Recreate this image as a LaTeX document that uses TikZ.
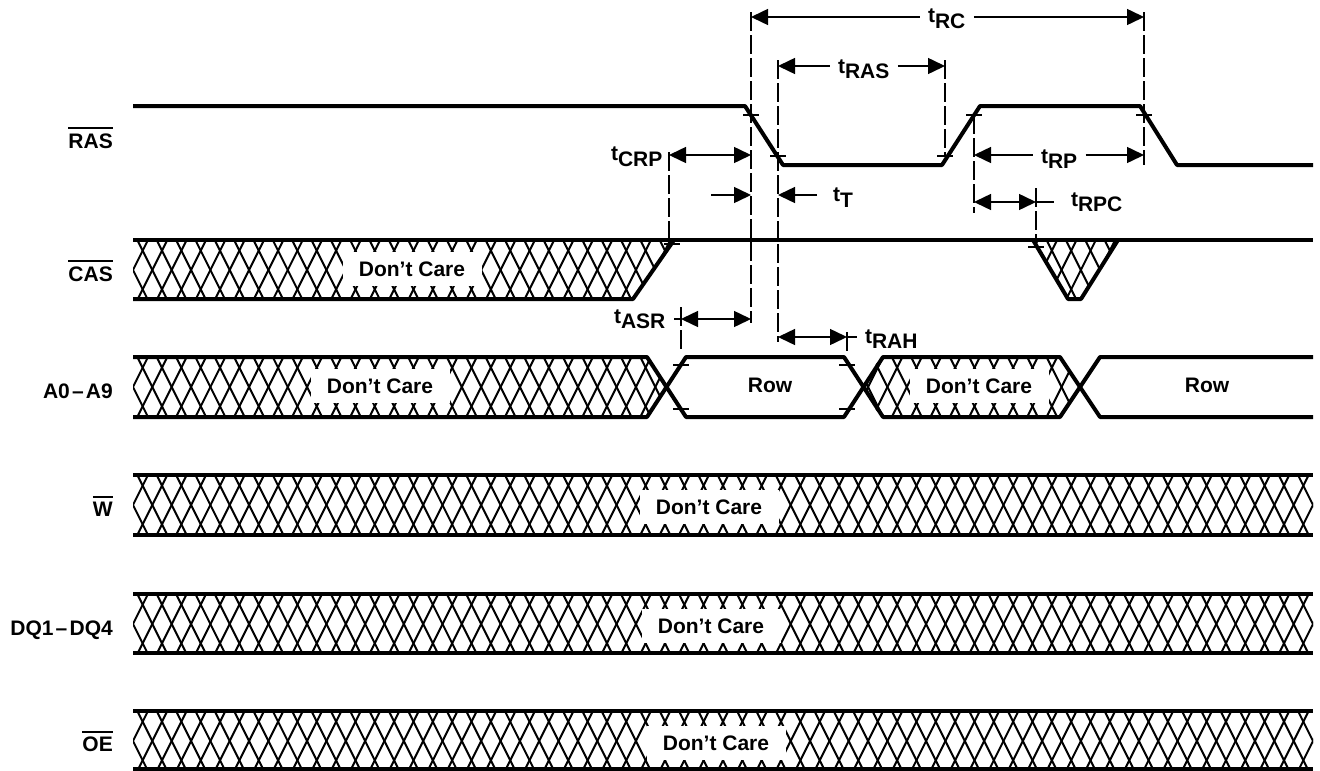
\documentclass[tikz,border=0pt]{standalone}
\usepackage{fontspec}
\setmainfont{Liberation Sans}
\usetikzlibrary{arrows.meta}
\tikzset{
    wave/.style = {draw, line width=4pt, line join=round},
    bandline/.style = {draw, line width=4pt, line join=miter},
    hatchline/.style = {draw, line width=2pt},
    guide/.style = {draw, line width=1.3pt, dash pattern=on 19pt off 4pt},
    tickmark/.style = {draw, line width=1.4pt},
    dim/.style = {draw, line width=1.5pt, -{Triangle[length=17pt,width=16pt]}},
    dimboth/.style = {draw, line width=1.5pt, {Triangle[length=17pt,width=16pt]}-{Triangle[length=17pt,width=16pt]}},
    stub/.style = {draw, line width=1.5pt},
    tlabel/.style = {anchor=base west, inner sep=0pt, outer xsep=8.5pt},
    siglabel/.style = {anchor=base east, inner sep=0pt},
    dontcare/.style = {fill=white, inner sep=0pt, minimum width=139pt, minimum height=34pt, text height=15pt, text depth=0pt},
    rowlabel/.style = {inner sep=0pt, text height=15pt, text depth=0pt}
}
\newcommand{\tsub}[1]{t\raisebox{-5.5pt}{#1}}
\newcommand{\nbar}[1]{\vbox{\hrule height 2pt \kern 4pt \hbox{#1}}}
\newcommand{\hatched}[2]{%
    \begin{scope}
        \clip #2;
        \foreach \k in {0,...,62}{
            \draw [hatchline] ({118+19.344*\k},#1) -- +(30,60);
            \draw [hatchline] ({148+19.344*\k},#1) -- +(-30,60);
        }
    \end{scope}
}
\begin{document}
\begin{tikzpicture}[x=1pt, y=-1pt, every node/.style={font=\fontsize{21}{24}\selectfont\bfseries}]
        \useasboundingbox (0,0) rectangle (1320,771);
        \hatched{240}{(133,240) -- (674,240) -- (633,299) -- (133,299) -- cycle}
        \hatched{240}{(1033,240) -- (1068,299) -- (1081,299) -- (1118,240) -- cycle}
        \hatched{357}{(133,357) -- (647,357) -- (667,387) -- (647,417) -- (133,417) -- cycle}
        \hatched{357}{(863,387) -- (880,357) -- (1060,357) -- (1080,387) -- (1060,417) -- (880,417) -- cycle}
        \foreach \t/\b in {475/535,594/653,711/769}{
            \hatched{\t}{(133,\t) rectangle (1313,\b)}
            \draw [bandline] (133,\t) -- (1313,\t);
            \draw [bandline] (133,\b) -- (1313,\b);
        }
        \node [dontcare, name=dccas] at (412,269) {Don’t Care};
        \node [dontcare, name=dcadra] at (380,386) {Don’t Care};
        \node [dontcare, name=dcadrb] at (979,386) {Don’t Care};
        \node [dontcare, name=dcw] at (709,507) {Don’t Care};
        \node [dontcare, name=dcdq] at (711,626) {Don’t Care};
        \node [dontcare, name=dcoe] at (716,743) {Don’t Care};
        \node [rowlabel, name=rowa] at (770,385) {Row};
        \node [rowlabel, name=rowb] at (1207,385) {Row};
        \draw [wave] (133,106) -- (745,106) -- (783,165) -- (942,165) -- (980,106) -- (1140,106) -- (1177,165) -- (1313,165);
        \draw [wave] (133,240) -- (1313,240);
        \draw [wave] (133,299) -- (633,299) -- (674,240);
        \draw [wave] (1033,240) -- (1068,299) -- (1081,299) -- (1118,240);
        \draw [wave] (133,357) -- (647,357) -- (686,417) -- (844,417) -- (883,357) -- (1060,357) -- (1100,417) -- (1313,417);
        \draw [wave] (133,417) -- (647,417) -- (686,357) -- (844,357) -- (883,417) -- (1060,417) -- (1100,357) -- (1313,357);
        \foreach \x/\y in {751/115,778/156,945/156,974/115,1144/115,672/244,1036/247,681/365,681/409,847/365,847/409}{
            \draw [tickmark] (\x-8,\y) -- (\x+8,\y);
        }
        \foreach \n/\x/\a/\b in {rasa/751/12/323,rasb/778/60/342,rasc/945/60/156,rasd/974/115/213,rase/1144/12/165,casa/1036/188/240,casb/669/152/240,adra/681/307/351,adrb/847/332/351}{
            \coordinate (\n) at (\x,\a);
            \coordinate (\n end) at (\x,\b);
            \draw [guide] (\n) -- (\n end);
        }
        \foreach \n/\y in {ytrc/17,ytras/66,ytcrp/155,ytt/195,ytrp/155,ytrpc/202,ytasr/319,ytrah/337}{
            \coordinate (\n) at (0,\y);
        }
        \node [tlabel, name=ltrc] at (919.5,23) {\tsub{RC}};
        \node [tlabel, name=ltras] at (829.5,73) {\tsub{RAS}};
        \node [tlabel, name=ltcrp] at (602.5,160.5) {\tsub{CRP}};
        \node [tlabel, name=ltt] at (824.5,201.5) {\tsub{T}};
        \node [tlabel, name=ltrp] at (1032.5,163) {\tsub{RP}};
        \node [tlabel, name=ltrpc] at (1062.5,206) {\tsub{RPC}};
        \node [tlabel, name=ltasr] at (605.5,323) {\tsub{ASR}};
        \node [tlabel, name=ltrah] at (856.5,343) {\tsub{RAH}};
        \draw [dim] (ltrc.west |- ytrc) -- (rasa |- ytrc);
        \draw [dim] (ltrc.east |- ytrc) -- (rase |- ytrc);
        \draw [dim] (ltras.west |- ytras) -- (rasb |- ytras);
        \draw [dim] (ltras.east |- ytras) -- (rasc |- ytras);
        \draw [dimboth] (casb |- ytcrp) -- (rasa |- ytcrp);
        \coordinate (ttleft) at (711,195);
        \coordinate (ttright) at (817,195);
        \draw [dim] (ttleft) -- (rasa |- ytt);
        \draw [dim] (ttright) -- (rasb |- ytt);
        \draw [dim] (ltrp.west |- ytrp) -- (rasd |- ytrp);
        \draw [dim] (ltrp.east |- ytrp) -- (rase |- ytrp);
        \draw [dimboth] (rasd |- ytrpc) -- (casa |- ytrpc);
        \coordinate (rpcstub) at (1054,202);
        \draw [stub] (casa |- ytrpc) -- (rpcstub);
        \draw [dimboth] (adra |- ytasr) -- (rasa |- ytasr);
        \coordinate (asrstub) at (674,319);
        \draw [stub] (adra |- ytasr) -- (asrstub);
        \draw [dimboth] (rasb |- ytrah) -- (adrb |- ytrah);
        \draw [stub] (adrb |- ytrah) -- (ltrah.west |- ytrah);
        \node [siglabel, name=sigras] at (113,148) {\nbar{RAS}};
        \node [siglabel, name=sigcas] at (113,281) {\nbar{CAS}};
        \node [siglabel, name=sigadr] at (113,398) {A0\kern2.2pt–\kern2.2pt A9};
        \node [siglabel, name=sigw] at (113,516.5) {\nbar{W}};
        \node [siglabel, name=sigdq] at (113,635) {DQ1\kern2.2pt–\kern2.2pt DQ4};
        \node [siglabel, name=sigoe] at (113,751.5) {\nbar{OE}};
\end{tikzpicture}
\end{document}
